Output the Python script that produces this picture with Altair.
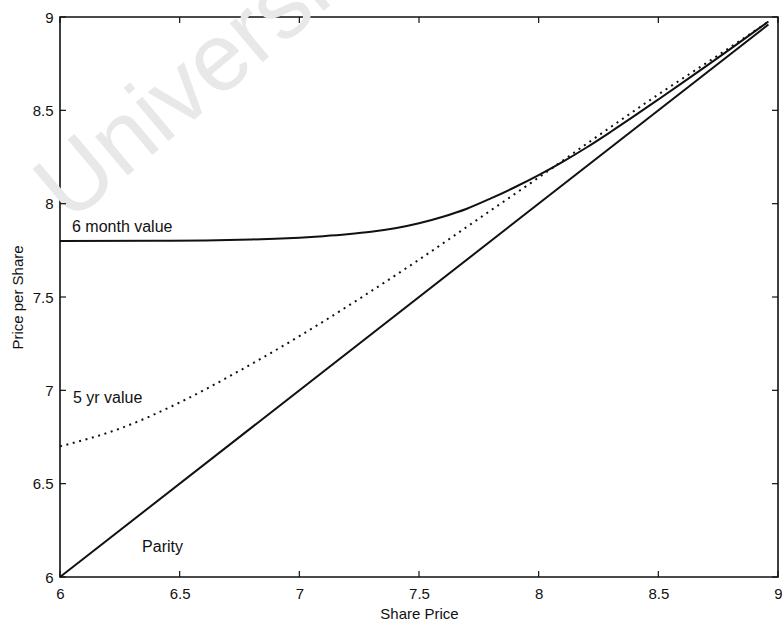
import altair as alt
import pandas as pd

# Axis range and tick positions
x_domain = [6, 9]
y_domain = [6, 9]
tick_values = [6, 6.5, 7, 7.5, 8, 8.5, 9]

# Convertible value after 6 months
share_price_6m = [6.0, 6.4, 6.6, 6.8, 6.9, 7.0, 7.1, 7.2, 7.3, 7.4, 7.5, 7.6, 7.7, 7.8, 7.9,
                  8.0, 8.1, 8.2, 8.3, 8.4, 8.5, 8.6, 8.7, 8.8, 8.9, 8.96]
value_6m = [7.800, 7.801, 7.803, 7.808, 7.812, 7.818, 7.826, 7.836, 7.849, 7.868, 7.895, 7.930,
            7.973, 8.028, 8.088, 8.153, 8.224, 8.301, 8.384, 8.470, 8.558, 8.647, 8.737,
            8.828, 8.920, 8.976]

# Convertible value after 5 years
share_price_5y = [6.0, 6.25, 6.5, 6.75, 7.0, 7.25, 7.5, 7.75, 8.0, 8.25, 8.5, 8.75, 8.96]
value_5y = [6.700, 6.795, 6.935, 7.105, 7.290, 7.490, 7.700, 7.920, 8.140, 8.365, 8.585,
            8.795, 8.975]

# Conversion (parity) value
parity_price = [6.0, 8.96]
parity_value = [6.0, 8.96]

# In-plot labels
label_text = ["6 month value", "5 yr value", "Parity"]
label_x = [6.05, 6.054, 6.343]
label_y = [7.875, 6.96, 6.161]

# Background watermark
watermark_text = ["University"]
watermark_x = [6.04]
watermark_y = [7.89]

FONT = "Liberation Sans"
INK = "#111111"

xs = alt.Scale(domain=x_domain, nice=False, zero=False)
ys = alt.Scale(domain=y_domain, nice=False, zero=False)

df6m = pd.DataFrame({"price": share_price_6m, "value": value_6m})
df5y = pd.DataFrame({"price": share_price_5y, "value": value_5y})
dfpar = pd.DataFrame({"price": parity_price, "value": parity_value})
dflab = pd.DataFrame({"text": label_text, "price": label_x, "value": label_y})
dfwm = pd.DataFrame({"text": watermark_text, "price": watermark_x, "value": watermark_y})
dfticks = pd.DataFrame({"price": tick_values, "value": tick_values})

x_axis = alt.Axis(values=tick_values, format="~g", title="Share Price",
                  labelPadding=9, titlePadding=5)
y_axis = alt.Axis(values=tick_values, format="~g", title="Price per Share",
                  labelPadding=7, titlePadding=7)

# Shared position encodings, identical in every layer so the axes merge cleanly
X = alt.X("price:Q", scale=xs, axis=x_axis)
Y = alt.Y("value:Q", scale=ys, axis=y_axis)

watermark = alt.Chart(dfwm).mark_text(
    font=FONT, fontSize=96, color="#e8e8e8", angle=320, align="left",
    baseline="alphabetic"
).encode(x=X, y=Y, text="text:N")

line_6m = alt.Chart(df6m).mark_line(
    color=INK, strokeWidth=2, interpolate="monotone"
).encode(x=X, y=Y)

line_5y = alt.Chart(df5y).mark_line(
    color=INK, strokeWidth=2, strokeDash=[2, 4.6], interpolate="monotone"
).encode(x=X, y=Y)

line_par = alt.Chart(dfpar).mark_line(color=INK, strokeWidth=2).encode(x=X, y=Y)

labels = alt.Chart(dflab).mark_text(
    font=FONT, fontSize=16, color=INK, align="left", baseline="middle"
).encode(x=X, y=Y, text="text:N")

# Inward-pointing tick marks on all four sides of the box
tick_len = 6
rule_style = dict(color=INK, strokeWidth=1.2)
ticks_bottom = alt.Chart(dfticks).mark_rule(**rule_style).encode(
    x=X, y=alt.value(560), y2=alt.value(560 - tick_len))
ticks_top = alt.Chart(dfticks).mark_rule(**rule_style).encode(
    x=X, y=alt.value(0), y2=alt.value(tick_len))
ticks_left = alt.Chart(dfticks).mark_rule(**rule_style).encode(
    y=Y, x=alt.value(0), x2=alt.value(tick_len))
ticks_right = alt.Chart(dfticks).mark_rule(**rule_style).encode(
    y=Y, x=alt.value(718), x2=alt.value(718 - tick_len))

chart = alt.layer(
    watermark, line_6m, line_5y, line_par, labels,
    ticks_bottom, ticks_top, ticks_left, ticks_right,
).properties(
    width=718,
    height=560,
    autosize=alt.AutoSizeParams(type="none"),
    padding={"left": 60, "top": 17, "right": 4, "bottom": 46},
    background="white",
).configure_view(
    stroke=INK, strokeWidth=1.6
).configure_axis(
    ticks=False, domain=False, grid=False, zindex=1,
    labelFont=FONT, labelFontSize=15, labelColor=INK,
    labelFlush=False, labelOverlap=False,
    titleFont=FONT, titleFontSize=15, titleFontWeight="normal", titleColor=INK,
)

chart.save("out.html", embed_options={"renderer": "svg", "actions": False})
